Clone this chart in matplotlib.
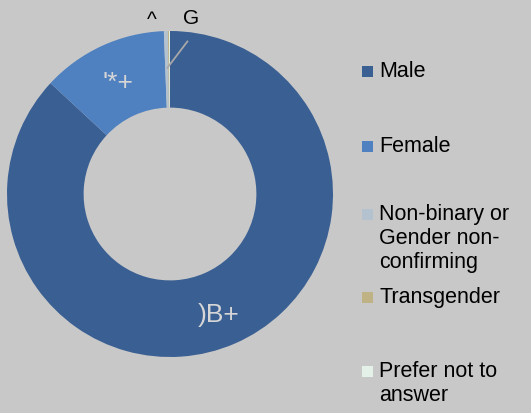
import matplotlib.pyplot as plt
from matplotlib.patches import Rectangle
import numpy as np

plt.rcParams['font.family'] = ['Liberation Sans', 'DejaVu Sans']

# Datos del gráfico
categorias = ["Male", "Female", "Non-binary or\nGender non-\nconfirming",
              "Transgender", "Prefer not to\nanswer"]
valores = [86.9, 12.5, 0.4, 0.1, 0.1]
etiquetas = [")B+", "'*+", "G", "", "^"]
colores = ["#3a5f93", "#4f80bf", "#b3c2ce", "#bfb386", "#e4f1e8"]
FONDO = "#c8c8c8"

W, H = 531, 414
fig = plt.figure(figsize=(W / 100, H / 100), dpi=100, facecolor=FONDO)
ax = fig.add_axes([7 / W, 56 / H, 326 / W, 326 / H])
ax.set_facecolor(FONDO)

wedges, _ = ax.pie(valores, colors=colores, startangle=90, counterclock=False,
                   radius=1, wedgeprops=dict(width=0.47, linewidth=0))
ax.set_xlim(-1, 1)
ax.set_ylim(-1, 1)
ax.set_aspect("equal")
ax.axis("off")

# Etiquetas de los segmentos
for i, w in enumerate(wedges):
    ang = np.deg2rad((w.theta1 + w.theta2) / 2)
    x, y = np.cos(ang), np.sin(ang)
    if i == 0:
        ax.text(0.75 * x, 0.75 * y - 0.05, etiquetas[i], color="#d6d6d6",
                fontsize=19, ha="center", va="center")
    elif i == 1:
        ax.text(0.72 * x - 0.02, 0.72 * y + 0.03, etiquetas[i], color="#d6d6d6",
                fontsize=19, ha="center", va="center")
    elif i == 2:
        ax.text(0.13, 1.085, etiquetas[i], fontsize=15, ha="center",
                va="center", color="black")
        # línea guía hacia el segmento pequeño
        ax.plot([0.11, 0.77 * x], [0.94, 0.77 * y], color="#a8a8a8", lw=1.3,
                solid_capstyle="butt")
    elif i == 4:
        ax.text(-0.11, 1.07, etiquetas[i], fontsize=15, ha="center",
                va="center", color="black")

# Leyenda dibujada a mano
filas_y = [72, 147, 215, 298, 372]
for cat, col, yc in zip(categorias, colores, filas_y):
    lado = 11
    fig.patches.append(Rectangle(((362) / W, (H - yc - lado / 2) / H),
                                 lado / W, lado / H, transform=fig.transFigure,
                                 facecolor=col, edgecolor="none"))
    fig.text(379 / W, (H - yc + 11) / H, cat, fontsize=15.5, ha="left",
             va="top", color="black", linespacing=1.2)

fig.savefig("out.png", dpi=100, facecolor=FONDO)
